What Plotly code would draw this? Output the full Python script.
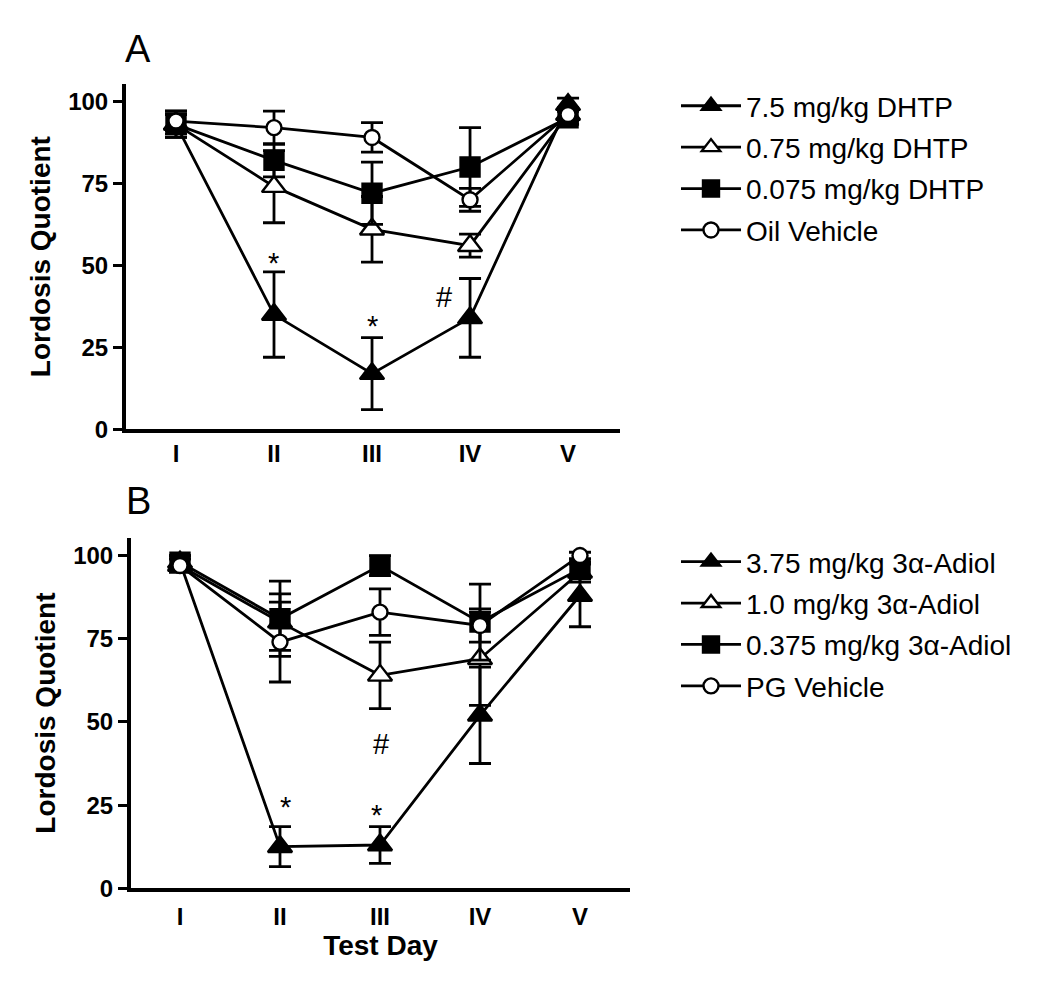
import plotly.graph_objects as go

# ---------------- data ----------------
days = ["I", "II", "III", "IV", "V"]
day_pos = [1, 2, 3, 4, 5]
y_ticks = [0, 25, 50, 75, 100]

# Panel A (DHTP)
a_names = ["7.5 mg/kg DHTP", "0.75 mg/kg DHTP", "0.075 mg/kg DHTP", "Oil Vehicle"]
dhtp_75 = [93, 35, 17, 34, 99]
dhtp_75_err = [4, 13, 11, 12, 2]
dhtp_075 = [93, 74, 61, 56, 96]
dhtp_075_err = [3, 11, 10, 3.5, 2]
dhtp_0075 = [93, 82, 72, 80, 95]
dhtp_0075_err = [4, 5, 9.5, 12, 2]
oil = [94, 92, 89, 70, 96]
oil_err = [3, 5, 4.5, 3.5, 2]

# Panel B (3a-Adiol)
b_names = ["3.75 mg/kg 3α-Adiol", "1.0 mg/kg 3α-Adiol", "0.375 mg/kg 3α-Adiol", "PG Vehicle"]
adiol_375 = [98, 12.5, 13, 52, 88]
adiol_375_err = [2, 6, 5.5, 14.5, 9.4]
adiol_10 = [97, 80, 64, 69, 95]
adiol_10_err = [2, 8.5, 10, 14, 3]
adiol_0375 = [98, 81, 97, 80, 96]
adiol_0375_err = [2, 11.3, 3, 11.4, 3]
pg = [97, 74, 83, 79, 100]
pg_err = [2, 12, 7, 5, 1]

# significance marks: (text, day position, value)
a_marks = [("*", 1.99, 53), ("*", 3.0, 33.5), ("#", 3.73, 40.5)]
b_marks = [("*", 2.05, 26.5), ("*", 2.96, 24), ("#", 3.01, 43.3)]

# ---------------- styling ----------------
W, H = 1050, 989
FONT = "Liberation Sans"
styles = [
    dict(symbol="triangle-up", size=21, color="black"),
    dict(symbol="triangle-up", size=21, color="white"),
    dict(symbol="square", size=19, color="black"),
    dict(symbol="circle", size=15, color="white"),
]

fig = go.Figure()


def add_series(names, ys, errs, xa, ya, legend):
    for i, (n, y, e) in enumerate(zip(names, ys, errs)):
        st = styles[i]
        fig.add_trace(go.Scatter(
            x=day_pos, y=y, name=n, mode="lines+markers",
            xaxis=xa, yaxis=ya, legend=legend, legendgroup=legend + str(i),
            line=dict(color="black", width=2.8),
            marker=dict(symbol=st["symbol"], size=st["size"], color=st["color"],
                        line=dict(color="black", width=2.4)),
            error_y=dict(type="data", array=e, color="black", thickness=2.8, width=11),
            cliponaxis=False,
        ))


add_series(a_names, [dhtp_75, dhtp_075, dhtp_0075, oil],
           [dhtp_75_err, dhtp_075_err, dhtp_0075_err, oil_err], "x", "y", "legend")
add_series(b_names, [adiol_375, adiol_10, adiol_0375, pg],
           [adiol_375_err, adiol_10_err, adiol_0375_err, pg_err], "x2", "y2", "legend2")

annotations = []
for txt, xv, yv in a_marks:
    annotations.append(dict(text=txt, x=xv, y=yv, xref="x", yref="y", showarrow=False,
                            font=dict(family=FONT, size=29, color="black"),
                            yshift=-7 if txt == "*" else 0))
for txt, xv, yv in b_marks:
    annotations.append(dict(text=txt, x=xv, y=yv, xref="x2", yref="y2", showarrow=False,
                            font=dict(family=FONT, size=29, color="black"),
                            yshift=-7 if txt == "*" else 0))
annotations.append(dict(text="A", x=130 / W, y=1 - 42 / H, xref="paper", yref="paper",
                        xanchor="center", yanchor="middle",
                        showarrow=False, font=dict(family=FONT, size=38, color="black")))
annotations.append(dict(text="B", x=130 / W, y=1 - 500 / H, xref="paper", yref="paper",
                        xanchor="center", yanchor="middle",
                        showarrow=False, font=dict(family=FONT, size=38, color="black")))

tickfont = dict(family=FONT, size=24, color="black", weight="bold")
titlefont = dict(family=FONT, size=28, color="black", weight="bold")


def yaxis(domain, anchor):
    return dict(domain=domain, range=[0, 105.3], anchor=anchor, tickvals=y_ticks,
                ticktext=[str(v) for v in y_ticks], ticks="outside", ticklen=9,
                tickwidth=3, tickcolor="black", showline=True, linewidth=4,
                linecolor="black", showgrid=False, zeroline=False, tickfont=tickfont,
                title=dict(text="Lordosis Quotient", font=titlefont, standoff=10),
                fixedrange=True)


def xaxis(domain, rng, anchor, standoff, title=None):
    d = dict(domain=domain, range=rng, anchor=anchor, tickvals=day_pos, ticktext=days,
             ticks="", showline=True, linewidth=4, linecolor="black", showgrid=False,
             zeroline=False, tickfont=tickfont, ticklabelstandoff=standoff, fixedrange=True)
    if title:
        d["title"] = dict(text=title, font=titlefont, standoff=2)
    return d


legend_common = dict(xanchor="left", yanchor="top",
                     font=dict(family=FONT, size=28, color="black"),
                     traceorder="grouped", tracegroupgap=2, itemwidth=60,
                     bgcolor="rgba(0,0,0,0)")

fig.update_layout(
    width=W, height=H,
    margin=dict(l=0, r=0, t=0, b=0),
    paper_bgcolor="white", plot_bgcolor="white",
    xaxis=xaxis([118 / W, 612 / W], [0.49, 5.53], "y", 0),
    yaxis=yaxis([1 - 427 / H, 1 - 77 / H], "x"),
    xaxis2=xaxis([123 / W, 622 / W], [0.51, 5.5], "y2", 4, "Test Day"),
    yaxis2=yaxis([1 - 892 / H, 1 - 537 / H], "x2"),
    legend=dict(x=668 / W, y=1 - 74 / H, **legend_common),
    legend2=dict(x=668 / W, y=1 - 536 / H, **legend_common),
    annotations=annotations,
    showlegend=True,
)

fig.write_html("out.html")
